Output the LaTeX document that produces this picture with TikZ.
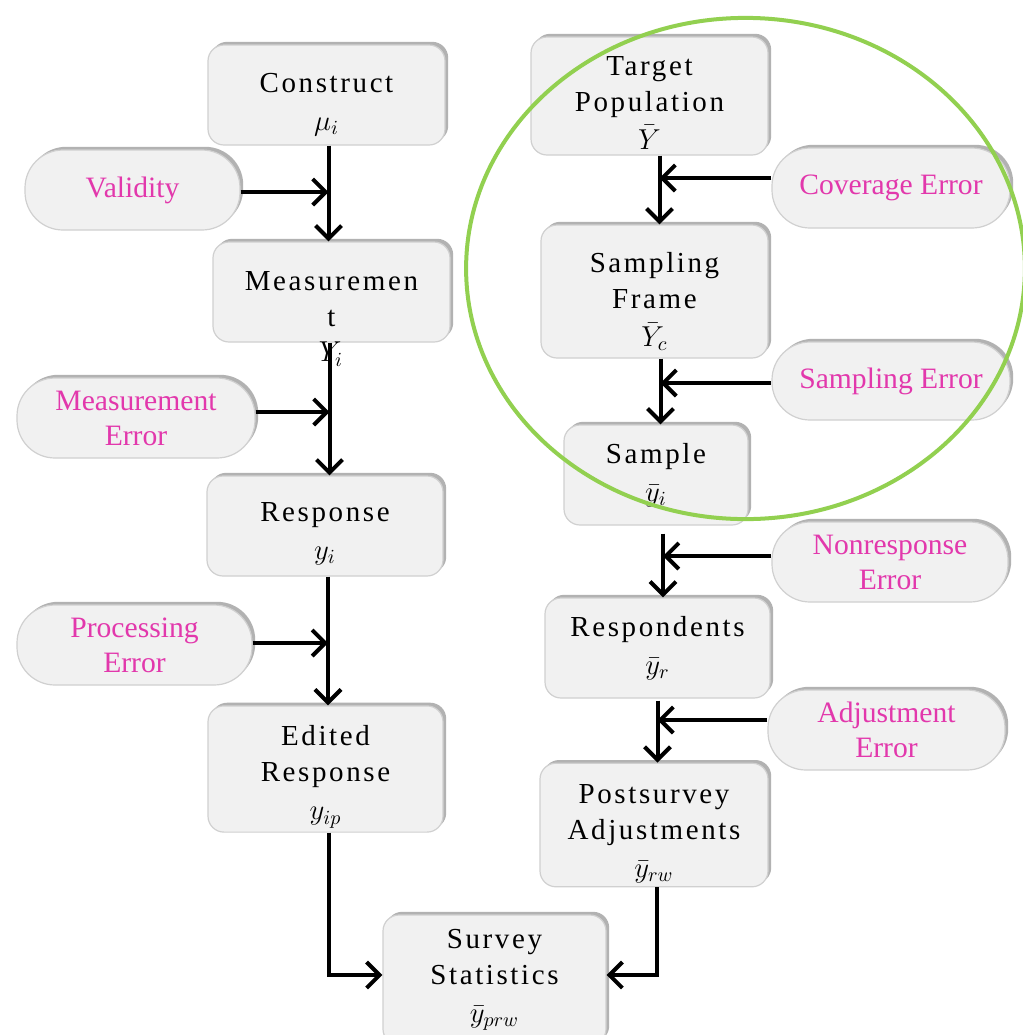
\documentclass[tikz,border=0pt]{standalone}
\usepackage{fontspec}
\setmainfont{Liberation Serif}
\newfontfamily\boxfont[LetterSpace=9]{Liberation Serif}
\usetikzlibrary{arrows.meta,shadows,calc}
\definecolor{boxfill}{RGB}{241,241,241}
\definecolor{boxline}{RGB}{208,208,208}
\definecolor{errpink}{RGB}{226,56,172}
\definecolor{ringgreen}{RGB}{146,208,80}
\newcommand{\fl}[1][17pt]{\rule{0pt}{#1}}
\begin{document}
\begin{tikzpicture}[x=0.5pt,y=-0.5pt,
  box/.style={draw=boxline, line width=0.6pt, fill=boxfill, rounded corners=8pt,
    align=center, font=\boxfont\fontsize{14.5}{18}\selectfont, inner sep=2pt,
    general shadow={shadow xshift=1.6pt, shadow yshift=1.6pt, fill=gray!60, draw=none}},
  pill/.style={draw=boxline, line width=0.6pt, fill=boxfill, rounded corners=19pt,
    align=center, text=errpink, font=\fontsize{14.8}{17.5}\selectfont, inner sep=2pt,
    general shadow={shadow xshift=1.6pt, shadow yshift=1.6pt, fill=gray!60, draw=none}},
  conn/.style={line width=2pt, -{Straight Barb[length=6.5pt,width=13pt]}},
  ring/.style={draw=ringgreen, line width=2pt}]
\clip (0,0) rectangle (1023,1035);
\fill[white] (0,0) rectangle (1023,1035);

% left column
\node[box, minimum width=118.5pt, minimum height=50pt] (con) at (326.5,95) {\fl[19pt]Construct\\[1pt]$\mu_i$};
\node[pill, minimum width=107.5pt, minimum height=40pt] (val) at (132.5,190) {Validity};
\node[box, minimum width=118.5pt, minimum height=50pt] (mea) at (331.5,292) {\fl Measuremen\\t};
\node[font=\fontsize{14.5}{17}\selectfont, inner sep=0pt] (meaY) at (331,354) {$Y_i$};
\node[pill, minimum width=119pt, minimum height=40pt] (mer) at (136,418) {Measurement\\Error};
\node[box, minimum width=118pt, minimum height=50pt] (res) at (325,526) {\fl Response\\[1pt]$y_i$};
\node[pill, minimum width=117.5pt, minimum height=40pt] (per) at (134.5,645) {Processing\\Error};
\node[box, minimum width=117.5pt, minimum height=59pt] (edr) at (325.5,769) {\fl[18pt]Edited\\Response\\[1pt]$y_{ip}$};
\node[box, minimum width=111.5pt, minimum height=65pt] (sst) at (494.5,980) {Survey\\Statistics\\[1pt]$\bar{y}_{prw}$};

% right column
\node[box, minimum width=118.5pt, minimum height=59pt] (tpo) at (649.5,96) {\fl[16pt]Target\\Population\\[1pt]$\bar{Y}$};
\node[pill, minimum width=119pt, minimum height=40pt] (cer) at (891,188) {Coverage Error};
\node[box, minimum width=113.5pt, minimum height=66.5pt] (sfr) at (654.5,291.5) {\fl[20pt]Sampling\\Frame\\[1pt]$\bar{Y}_c$};
\node[pill, minimum width=119pt, minimum height=39pt] (ser) at (891,381) {Sampling Error};
\node[box, minimum width=92pt, minimum height=50pt] (sam) at (656,475) {Sample\\[1pt]$\bar{y}_i$};
\node[pill, minimum width=118pt, minimum height=40pt] (ner) at (890,562) {Nonresponse\\Error};
\node[box, minimum width=112.5pt, minimum height=50pt] (rsp) at (657.5,648) {Respondents\\[1pt]$\bar{y}_r$};
\node[pill, minimum width=118.5pt, minimum height=40pt] (aer) at (886.5,730) {Adjustment\\Error};
\node[box, minimum width=114pt, minimum height=60pt] (psa) at (654,825) {\fl[18pt]Postsurvey\\Adjustments\\[1pt]$\bar{y}_{rw}$};

% spine coordinates
\coordinate (s1) at ([xshift=1pt]con.south);
\coordinate (s2) at ([xshift=-1pt]mea.south);
\coordinate (s3) at ([xshift=1.5pt]res.south);
\coordinate (s4) at ([xshift=1.5pt]edr.south);
\coordinate (r1) at ([xshift=5pt]tpo.south);
\coordinate (r2) at ([xshift=3pt]sfr.south);
\coordinate (r3) at ([xshift=3.5pt,yshift=-4pt]sam.south);
\coordinate (r4) at ([yshift=-1pt]rsp.south);
\coordinate (r5) at ([xshift=1.5pt]psa.south);

% left connectors
\draw[conn] (s1) -- (s1 |- mea.north);
\draw[conn] ([yshift=-1pt]val.east) -- ([yshift=-1pt]val.east -| s1);
\draw[conn] (s2) -- (s2 |- res.north);
\draw[conn] ([yshift=3pt]mer.east) -- ([yshift=3pt]mer.east -| s2);
\draw[conn] (s3) -- (s3 |- edr.north);
\draw[conn] ([yshift=1pt]per.east) -- ([yshift=1pt]per.east -| s3);
\draw[conn] (s4) |- ([yshift=2.5pt]sst.west);

% right connectors
\draw[conn] (r1) -- (r1 |- sfr.north);
\draw[conn] ([yshift=5pt]cer.west) -- ([yshift=5pt]cer.west -| r1);
\draw[conn] (r2) -- (r2 |- sam.north);
\draw[conn] ([yshift=-1pt]ser.west) -- ([yshift=-1pt]ser.west -| r2);
\draw[conn] (r3) -- (r3 |- rsp.north);
\draw[conn] ([yshift=3pt]ner.west) -- ([yshift=3pt]ner.west -| r3);
\draw[conn] (r4) -- (r4 |- psa.north);
\draw[conn] ([yshift=5pt]aer.west) -- ([yshift=5pt]aer.west -| r4);
\draw[conn] (r5) |- ([yshift=2.5pt]sst.east);

% green ring
\draw[ring] (745.5,268.5) ellipse [x radius=139.7pt, y radius=125.3pt];
\end{tikzpicture}
\end{document}
